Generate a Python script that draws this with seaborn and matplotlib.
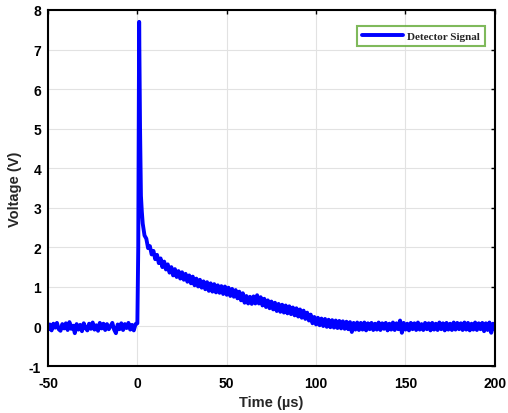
import numpy as np
import pandas as pd
import matplotlib
matplotlib.use("Agg")
import matplotlib.pyplot as plt
import seaborn as sns

# ---- data ----
t_pre = list(range(-50, 1))
v_pre = [-0.08, 0.05, -0.10, 0.07, -0.03, 0.09, -0.07, -0.11, 0.06, -0.05,
         0.08, -0.09, 0.11, -0.06, 0.02, -0.17, 0.06, -0.08, 0.04, -0.12,
         0.08, -0.04, -0.10, 0.07, -0.06, 0.10, -0.08, 0.03, -0.11, 0.09,
         -0.05, 0.07, -0.09, 0.06, -0.07, 0.01, 0.09, -0.08, -0.17, 0.05,
         -0.07, 0.08, -0.09, 0.06, -0.04, 0.09, -0.08, 0.04, -0.10, 0.06,
         0.08]
t_peak = [0.5, 1.0, 1.5, 2.0, 2.5, 3.0, 4.0]
v_peak = [2.0, 7.7, 5.0, 3.3, 2.9, 2.6, 2.3]
t_post = list(range(5, 201))
v_post = [2.22, 1.98, 2.03, 1.82, 1.91, 1.70, 1.81, 1.60, 1.72, 1.50,
          1.64, 1.44, 1.57, 1.36, 1.50, 1.29, 1.45, 1.25, 1.40, 1.21,
          1.37, 1.18, 1.33, 1.13, 1.29, 1.09, 1.26, 1.04, 1.21, 1.01,
          1.18, 0.98, 1.14, 0.94, 1.12, 0.90, 1.09, 0.88, 1.07, 0.86,
          1.04, 0.85, 1.02, 0.82, 1.01, 0.80, 0.98, 0.77, 0.95, 0.75,
          0.92, 0.71, 0.88, 0.66, 0.84, 0.60, 0.77, 0.58, 0.75, 0.57,
          0.76, 0.58, 0.79, 0.58, 0.74, 0.53, 0.70, 0.49, 0.66, 0.46,
          0.63, 0.43, 0.60, 0.39, 0.57, 0.37, 0.55, 0.35, 0.53, 0.33,
          0.51, 0.31, 0.48, 0.28, 0.46, 0.25, 0.43, 0.22, 0.40, 0.19,
          0.35, 0.15, 0.30, 0.08, 0.24, 0.05, 0.22, 0.03, 0.20, 0.01,
          0.19, -0.01, 0.17, -0.02, 0.16, -0.03, 0.15, -0.04, 0.14, -0.05,
          0.13, -0.06, 0.12, -0.07, 0.11, -0.14, 0.09, -0.08, 0.10, -0.09,
          0.09, -0.08, 0.10, -0.10, 0.08, -0.07, 0.09, -0.09, 0.07, -0.08,
          0.10, -0.09, 0.08, -0.06, 0.09, -0.10, 0.07, -0.08, 0.10, -0.09,
          0.08, -0.07, 0.15, -0.16, 0.09, -0.08, 0.07, -0.10, 0.09, -0.07,
          0.08, -0.09, 0.10, -0.08, 0.06, -0.09, 0.09, -0.07, 0.08, -0.10,
          0.09, -0.08, 0.07, -0.09, 0.10, -0.07, 0.08, -0.10, 0.09, -0.08,
          0.07, -0.09, 0.10, -0.08, 0.09, -0.07, 0.08, -0.09, 0.10, -0.08,
          0.09, -0.10, 0.07, -0.08, 0.10, -0.09, 0.08, -0.07, 0.09, -0.12,
          0.08, -0.09, 0.10, -0.16, 0.07, -0.08]
x_ticks = [-50, 0, 50, 100, 150, 200]
y_ticks = [-1, 0, 1, 2, 3, 4, 5, 6, 7, 8]
series_name = "Detector Signal"

df = pd.DataFrame({
    "Time": t_pre + t_peak + t_post,
    "Voltage": v_pre + v_peak + v_post,
})

# ---- plot ----
sns.set_style("white")
plt.rcParams['font.family'] = ['Liberation Sans', 'DejaVu Sans']

fig = plt.figure(figsize=(5.08, 4.14), dpi=100)
ax = fig.add_axes([0.0945, 0.1135, 0.8795, 0.86])

sns.lineplot(data=df, x="Time", y="Voltage", estimator=None, sort=False,
             color="#0000ff", linewidth=2.8, label=series_name, ax=ax)

ax.set_xlim(-50, 200)
ax.set_ylim(-1, 8)
ax.set_xticks(x_ticks)
ax.set_yticks(y_ticks)
ax.set_xticklabels([str(v) for v in x_ticks], fontweight="bold", fontsize=10)
ax.set_yticklabels([str(v) for v in y_ticks], fontweight="bold", fontsize=10)
ax.grid(True, color="#e2e2e2", linewidth=0.8)
ax.tick_params(direction="in", length=3, width=1, top=True, right=True,
               colors="black")
ax.tick_params(axis="x", pad=7)
ax.tick_params(axis="y", pad=5)
for s in ax.spines.values():
    s.set_visible(True)
    s.set_color("black")
    s.set_linewidth(1.5)

ax.set_xlabel("Time (µs)", fontweight="bold", fontsize=10.5, labelpad=4)
ax.set_ylabel("Voltage (V)", fontweight="bold", fontsize=10.5, labelpad=5)

leg = ax.legend(loc="upper right", bbox_to_anchor=(0.978, 0.955),
                prop={"family": ["Liberation Serif"], "weight": "bold", "size": 8},
                frameon=True, fancybox=False, handlelength=3.7,
                borderpad=0.45, handletextpad=0.4, borderaxespad=0)
leg.get_frame().set_edgecolor("#5fa832")
leg.get_frame().set_linewidth(1.5)

fig.savefig("out.png", dpi=100, facecolor="white")
